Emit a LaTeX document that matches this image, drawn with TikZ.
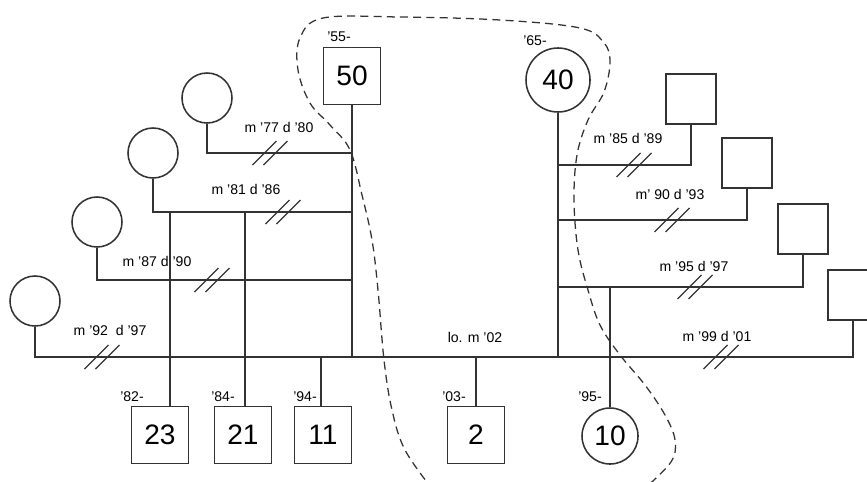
\documentclass[tikz,border=0pt]{standalone}
\usepackage{fontspec}
\setmainfont{Liberation Sans}
\usetikzlibrary{positioning}
\definecolor{ink}{HTML}{333333}

\tikzset{divorce/.pic={\draw[line width=0.9pt] (-17.5,12)--(6.5,-12) (-6.5,12)--(17.5,-12);}}

\begin{document}
\begin{tikzpicture}[x=0.025cm,y=-0.025cm,line width=1.1pt,draw=ink,
 man/.style={draw,minimum size=14.25mm,inner sep=0pt,font=\fontsize{20}{20}\selectfont},
 exman/.style={draw,minimum size=12.5mm,inner sep=0pt},
 woman/.style={draw,circle,minimum size=12.5mm,inner sep=0pt,font=\fontsize{20}{20}\selectfont},
 yr/.style={font=\fontsize{10}{12}\selectfont,inner sep=1pt}]
\useasboundingbox (0,0) rectangle (867,481);
% the couple
\node[man] (p50) at (352,76) {50};
\node[woman,minimum size=16mm] (p40) at (558,80) {40};
\node[yr] (y55) at (339,37) {'55-};
\node[yr] (y65) at (535,41) {'65-};
% his former wives
\node[woman] (w77) at (207,98) {};
\node[woman] (w81) at (153,153) {};
\node[woman] (w87) at (97,222) {};
\node[woman] (w92) at (35,301) {};
% her former husbands
\node[exman] (h85) at (691,99) {};
\node[exman] (h90) at (747,163) {};
\node[exman] (h95) at (803,229) {};
\node[exman] (h99) at (853,295) {};
% children
\node[man] (c23) at (160,435) {23};
\node[man] (c21) at (243,435) {21};
\node[man] (c11) at (323,435) {11};
\node[man] (c2) at (476,435) {2};
\node[woman,minimum size=14mm] (c10) at (610,436) {10};
\node[yr] (y82) at (132,397) {'82-};
\node[yr] (y84) at (223,397) {'84-};
\node[yr] (y94) at (305,397) {'94-};
\node[yr] (y03) at (454,397) {'03-};
\node[yr] (y95) at (590,397) {'95-};
% junctions
\coordinate (j77) at (352,153); \coordinate (j81) at (352,212);
\coordinate (j87) at (352,280); \coordinate (j50) at (352,357);
\coordinate (j40) at (558,357); \coordinate (j99) at (853,357);
\coordinate (j85) at (558,165); \coordinate (j90) at (558,220);
\coordinate (j95) at (558,287);
\coordinate (k23) at (170,212); \coordinate (k21) at (245,212);
\coordinate (k11) at (321,357); \coordinate (k2) at (476,357);
\coordinate (k10) at (610,287);
% marriage lines
\draw (p50)--(j50); \draw (p40)--(j40);
\draw (w77) |- (j77); \draw (w81) |- (j81); \draw (w87) |- (j87);
\draw (w92) |- (j99) -- (h99);
\draw (h85) |- (j85); \draw (h90) |- (j90); \draw (h95) |- (j95);
% children lines
\draw (k23)--(c23.north -| k23); \draw (k21)--(c21.north -| k21);
\draw (k11)--(c11.north -| k11); \draw (k2)--(c2); \draw (k10)--(c10);
% marks and dates
\foreach \p in {(270,153),(283,212),(212,280),(102,357),(634,165),(672,220),(695,287),(721,357)}
  \pic at \p {divorce};
\node[yr] (t77) at (279,127) {m '77 d '80};
\node[yr] (t81) at (246,189) {m '81 d '86};
\node[yr] (t87) at (157,261) {m '87 d '90};
\node[yr] (t92) at (110,330) {m '92\ \ d '97};
\node[yr] (t85) at (628,138) {m '85 d '89};
\node[yr] (t90) at (670,194) {m' 90 d '93};
\node[yr] (t95) at (694,266) {m '95 d '97};
\node[yr] (t99) at (717,336) {m '99 d '01};
\node[yr] (t02) at (475,337) {lo. m '02};
% household boundary
\draw[line width=0.9pt,dash pattern=on 2mm off 1.3mm] plot[smooth,tension=0.6] coordinates {
 (433,490) (405,450) (392,410) (384,360) (378,290) (372,240) (362,195) (350,150)
 (330,125) (310,103) (298,70) (300,38) (323,18) (400,17) (500,20) (580,28)
 (604,43) (610,62) (604,92) (588,120) (577,155) (574,200) (578,250) (588,290)
 (600,325) (620,355) (645,385) (665,415) (675,440) (671,462) (645,488)};
\end{tikzpicture}
\end{document}
